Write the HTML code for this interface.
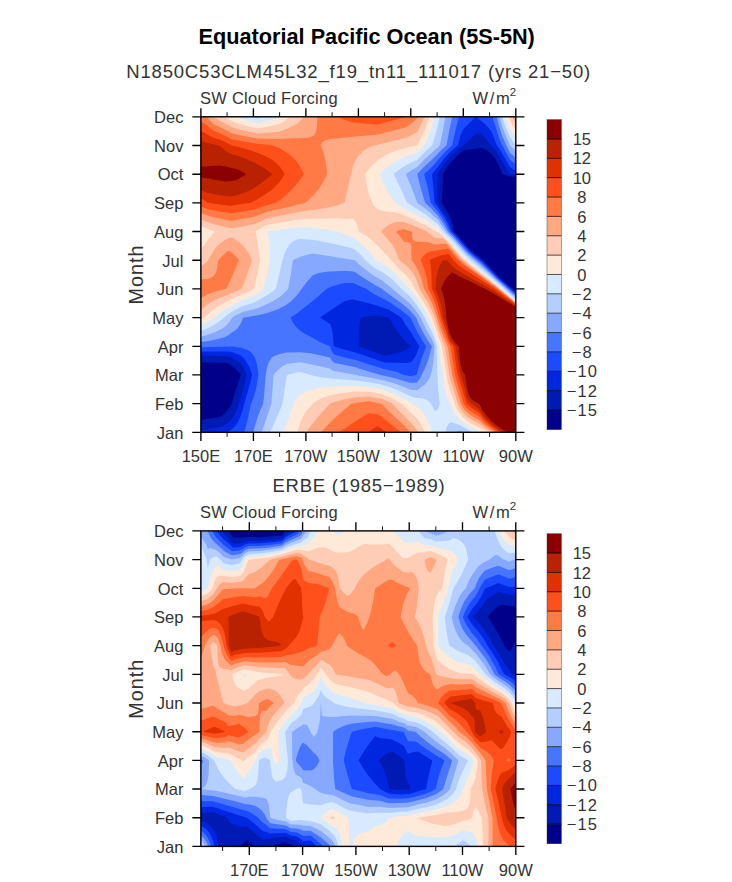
<!DOCTYPE html>
<html><head><meta charset="utf-8"><title>Equatorial Pacific Ocean (5S-5N)</title>
<style>html,body{margin:0;padding:0;background:#fff}svg{display:block}text{font-family:"Liberation Sans",sans-serif}</style></head><body>
<svg width="732" height="882" viewBox="0 0 732 882">
<rect width="732" height="882" fill="#fff"/>
<text transform="translate(366.70,44.00)" text-anchor="middle" font-size="21.7" font-weight="bold" fill="#000">Equatorial Pacific Ocean (5S-5N)</text>
<text transform="translate(126.20,78.00)" text-anchor="start" font-size="18.5" letter-spacing="0.83" fill="#333">N1850C53CLM45L32_f19_tn11_111017 (yrs 21−50)</text>
<text transform="translate(359.00,492.00)" text-anchor="middle" font-size="18.5" letter-spacing="0.75" fill="#333">ERBE (1985−1989)</text>
<g><rect x="200.9" y="116.8" width="314.9" height="315.5" fill="#00008b"/>
<path fill="#001ab4" fill-rule="evenodd" d="M200.9,116.8L515.8,116.8L515.8,177.1L509.9,176.5L504.1,174.8L502.2,173.8L498.9,165.7L495.8,159.8L493.7,156.8L491.2,153.8L487.9,151.0L481.9,148.0L480.9,147.9L473.9,149.0L465.9,149.9L463.9,150.5L461.9,151.8L458.3,154.8L452.3,160.8L447.6,166.8L443.3,173.8L443.1,174.8L442.7,182.8L442.0,202.8L447.9,212.7L450.9,218.7L451.9,221.4L452.8,224.8L453.8,230.8L454.2,231.8L456.3,233.8L469.6,248.8L475.9,254.3L483.9,260.7L499.9,277.8L503.9,281.1L515.8,291.6L515.8,432.3L200.9,432.3L200.9,419.8L219.9,417.0L220.9,416.7L225.3,412.8L228.9,408.4L231.9,403.2L235.8,389.8L240.7,374.8L237.5,370.8L233.9,367.4L230.3,364.8L227.9,363.4L226.9,363.1L200.9,362.2Z"/>
<path fill="#0026e0" fill-rule="evenodd" d="M200.9,116.8L515.8,116.8L515.8,174.9L509.6,173.8L502.9,163.0L499.8,156.8L496.9,151.9L494.2,148.8L490.9,145.8L484.6,136.8L481.9,133.7L480.9,133.3L475.9,133.8L464.2,144.8L457.9,149.3L452.9,153.6L448.9,157.8L445.0,162.8L439.5,170.8L437.7,173.8L437.4,174.8L437.7,202.8L442.9,210.4L447.9,219.0L450.9,225.6L452.4,230.8L453.0,231.8L456.9,235.8L468.9,249.4L475.9,255.5L482.9,261.1L498.9,277.8L515.8,292.6L515.8,432.3L200.9,432.3L200.9,430.5L219.9,427.0L221.9,426.4L227.0,423.8L229.3,421.8L231.9,419.0L233.9,415.8L235.9,411.7L241.1,396.8L244.2,385.8L246.5,374.8L243.9,368.2L240.9,363.4L236.9,360.4L231.9,357.6L226.9,356.1L200.9,355.8ZM372.9,315.7L365.9,316.6L360.8,317.8L360.0,321.8L359.4,326.8L358.6,345.8L360.1,346.8L365.9,349.0L379.9,354.0L384.9,355.5L393.9,353.9L400.9,352.0L406.1,349.8L410.9,346.8L410.9,345.8L407.9,343.5L404.9,340.7L397.9,332.2L393.6,325.8L389.1,317.8L375.9,315.6Z"/>
<path fill="#1c4bff" fill-rule="evenodd" d="M200.9,116.8L515.8,116.8L515.8,170.9L509.8,166.8L500.7,150.8L496.7,144.8L491.9,132.6L489.9,129.4L486.9,126.0L483.6,122.8L481.9,121.3L478.1,118.8L475.9,116.8L463.9,128.5L462.9,130.0L460.4,135.8L458.0,144.8L457.4,145.8L451.9,150.2L446.4,155.8L441.6,161.8L436.9,168.2L432.2,173.8L432.0,174.8L433.4,187.8L434.6,202.8L437.9,207.2L444.9,217.8L448.6,224.8L451.7,231.8L454.9,234.8L468.9,250.6L473.9,255.0L482.3,261.8L498.9,278.7L503.8,282.8L515.8,293.5L515.8,432.3L227.1,432.3L231.4,429.8L234.7,426.8L237.6,422.8L240.1,417.8L242.5,410.8L244.2,403.8L249.2,386.8L252.1,374.8L249.7,367.8L248.1,364.8L245.6,360.8L244.2,358.8L242.3,356.8L240.9,355.6L239.3,354.8L231.9,352.1L227.9,351.4L200.9,351.6ZM349.9,299.8L344.9,301.0L343.9,301.6L321.0,316.8L320.1,317.8L329.9,323.8L330.4,324.8L331.5,327.8L332.4,331.8L333.9,346.0L335.4,346.8L339.9,348.2L356.9,353.0L373.4,358.8L384.9,362.5L403.9,362.9L409.9,362.6L410.9,362.3L411.9,361.5L414.6,357.8L416.7,353.8L419.2,346.8L419.1,345.8L415.3,339.8L410.9,332.2L405.4,324.8L401.5,317.8L388.9,309.7L375.9,305.3L366.9,302.8L358.9,301.1L352.9,299.2Z"/>
<path fill="#4775ff" fill-rule="evenodd" d="M200.9,116.8L459.0,116.8L455.6,129.8L452.3,144.8L451.8,145.8L448.3,148.8L444.3,152.8L431.9,167.0L424.4,173.8L424.2,174.8L427.8,187.8L430.7,202.8L435.9,209.2L437.9,211.3L439.9,214.5L442.9,218.7L445.9,223.7L450.0,231.8L453.9,235.5L467.9,251.2L473.9,256.6L481.6,262.8L497.9,279.0L515.8,294.7L515.8,432.3L244.1,432.3L245.6,427.8L247.6,419.8L250.9,404.0L253.5,397.8L255.5,390.8L257.0,383.8L258.3,375.8L258.4,374.8L258.1,371.8L257.0,364.8L255.9,360.3L254.4,356.8L252.4,353.8L249.9,351.5L247.9,350.3L244.9,349.0L240.9,347.8L231.9,346.4L200.9,347.3ZM340.9,283.8L332.9,286.2L326.7,288.8L317.7,296.8L309.9,303.3L297.9,312.8L290.4,317.8L293.1,322.8L295.9,326.7L299.9,330.6L304.6,333.8L310.9,336.7L319.9,341.9L329.9,346.2L331.9,351.2L333.9,354.5L344.9,357.5L356.9,360.3L367.9,364.1L383.9,369.1L391.9,370.8L396.9,372.1L403.9,374.9L410.9,376.2L416.6,374.8L416.9,374.5L418.6,367.8L420.9,360.3L426.1,346.8L425.9,345.8L422.4,340.8L417.9,333.0L410.5,317.8L401.9,310.8L388.9,301.8L381.9,298.0L372.9,293.4L366.2,288.8L361.1,286.8L354.9,283.8L352.9,283.1L344.9,282.9ZM492.2,116.8L515.8,116.8L515.8,164.3L509.9,159.8L501.4,143.8L499.0,137.8L492.9,118.1Z"/>
<path fill="#86a8ff" fill-rule="evenodd" d="M200.9,116.8L452.2,116.8L449.4,129.8L446.6,144.8L446.1,145.8L441.6,149.8L431.9,159.8L423.9,167.1L417.5,173.8L417.3,174.8L421.2,189.8L425.1,202.8L430.9,208.1L435.1,212.8L437.9,215.4L439.9,218.8L443.9,224.4L448.1,231.8L452.9,236.4L466.9,252.2L472.9,257.6L480.9,264.1L497.3,279.8L501.9,283.7L515.8,296.2L515.8,432.3L253.2,432.3L255.5,423.8L257.8,416.8L260.1,410.8L263.2,403.8L263.9,397.4L265.7,374.8L267.2,366.8L268.6,362.8L269.9,360.2L271.9,357.6L273.9,356.0L279.9,354.0L286.9,352.6L299.9,352.3L310.9,353.3L329.9,357.4L331.9,360.5L333.9,362.7L356.9,367.6L357.9,368.2L362.9,369.8L379.6,374.8L392.9,377.7L409.9,382.7L411.9,382.9L416.9,382.5L418.9,380.1L420.4,377.8L424.3,369.8L426.9,363.7L429.5,355.8L431.8,346.8L431.5,345.8L428.1,340.8L422.7,331.8L418.7,323.8L416.2,317.8L409.9,310.2L401.9,303.6L385.9,291.9L381.9,288.7L374.7,284.8L362.9,277.6L354.9,272.0L352.9,271.5L344.9,270.8L325.9,271.7L318.9,273.1L315.9,274.1L312.9,275.3L306.2,282.8L298.9,292.8L294.9,297.6L290.6,301.8L284.9,305.8L277.9,309.3L268.9,312.5L257.9,315.3L243.2,317.8L240.7,323.8L237.9,328.1L234.9,330.8L231.9,332.6L227.9,335.4L223.9,337.4L217.9,339.1L208.9,341.0L200.9,342.1ZM497.0,116.8L515.8,116.8L515.8,157.7L509.9,152.7L504.7,141.8L502.2,135.8L500.5,130.8L498.8,124.8Z"/>
<path fill="#b4ceff" fill-rule="evenodd" d="M200.9,116.8L445.5,116.8L441.7,136.8L439.9,144.8L439.4,145.8L423.9,159.9L417.9,166.3L416.9,167.2L412.3,169.8L407.8,172.8L406.4,173.8L406.2,174.8L412.0,188.8L417.2,202.8L425.9,209.1L430.9,213.3L434.9,217.3L437.9,219.6L439.9,223.1L442.9,227.0L446.0,231.8L451.9,237.4L465.9,253.3L471.9,258.7L479.9,265.3L496.7,280.8L501.5,284.8L515.8,297.7L515.8,432.3L464.4,432.3L459.9,430.6L457.9,431.2L455.7,432.3L261.8,432.3L271.3,403.8L273.7,374.8L276.1,371.8L279.2,368.8L282.9,366.1L286.9,363.9L299.9,362.2L310.9,364.2L329.9,368.5L331.9,369.9L333.9,370.9L356.9,374.9L357.9,375.4L359.8,375.8L383.9,380.6L394.9,383.6L410.9,389.7L416.9,390.3L419.3,388.8L421.9,386.5L423.9,385.2L425.9,383.6L428.1,380.8L429.9,377.4L431.9,370.8L433.0,364.8L434.0,354.8L434.5,346.8L434.4,345.8L431.9,339.1L429.2,334.8L425.4,327.8L420.7,317.8L414.9,309.3L410.9,304.4L408.9,302.4L383.9,281.7L381.9,280.3L374.9,276.5L369.6,272.8L361.8,266.8L354.9,260.2L312.9,253.4L306.9,254.8L300.9,256.6L293.6,259.8L292.9,260.4L290.2,277.8L288.2,288.8L284.5,292.8L279.8,296.8L275.9,299.5L271.9,301.8L259.9,307.2L253.9,309.3L242.9,311.8L234.9,316.1L232.2,317.8L229.5,321.8L226.9,324.8L223.9,327.5L221.9,328.7L216.9,331.3L210.9,333.7L205.9,335.3L200.9,336.5ZM499.7,116.8L515.8,116.8L515.8,151.1L509.9,145.4L502.9,128.3L501.2,122.8Z"/>
<path fill="#d7eaff" fill-rule="evenodd" d="M200.9,116.8L251.2,116.8L256.9,118.5L262.5,116.8L439.8,116.8L437.8,125.8L435.8,133.8L433.3,141.8L432.2,144.8L431.5,145.8L423.9,152.8L416.9,160.0L409.9,163.2L401.9,167.8L394.9,173.0L394.0,173.8L393.9,174.8L400.8,188.8L407.1,202.8L424.9,213.9L430.9,218.4L434.9,222.0L437.9,223.7L439.9,227.3L443.5,231.8L450.9,238.8L464.9,254.7L470.9,260.2L478.9,266.8L500.7,285.8L515.8,299.5L515.8,432.3L472.5,432.3L466.9,429.3L459.9,424.9L457.9,424.4L454.9,423.2L450.9,422.2L448.9,423.8L447.4,425.8L446.2,428.8L445.4,432.3L270.2,432.3L276.9,417.3L282.5,403.8L284.8,387.8L286.9,375.7L287.9,374.7L298.9,372.1L299.9,372.1L302.8,372.8L314.9,376.1L320.9,377.3L335.9,379.0L356.9,380.5L357.9,380.8L368.9,382.3L380.9,384.6L383.9,385.4L391.9,387.8L394.9,389.0L411.9,396.8L416.9,398.0L421.9,398.2L426.4,399.8L428.1,400.8L429.9,402.5L430.9,403.8L434.9,411.1L435.9,411.3L437.3,409.8L438.5,407.8L439.7,403.8L438.7,395.8L438.0,385.8L437.2,368.8L436.7,345.8L434.9,340.0L431.9,331.9L428.1,324.8L424.8,317.8L420.9,311.3L415.9,303.8L410.9,297.6L408.9,295.5L401.3,288.8L390.9,278.3L382.9,272.6L375.9,268.8L371.9,265.8L366.0,260.8L361.5,255.8L354.9,249.4L352.9,248.5L336.9,244.4L312.9,239.8L299.9,238.9L298.9,239.0L292.9,241.3L291.9,242.1L288.7,245.8L285.9,250.5L284.1,254.8L282.6,259.8L275.8,288.8L272.9,291.2L269.2,293.8L256.9,301.2L252.9,302.9L242.9,306.0L232.9,311.0L227.4,314.8L220.2,320.8L215.9,323.8L208.8,327.8L204.2,329.8L200.9,330.9ZM502.3,116.8L515.8,116.8L515.8,144.4L512.6,140.8L509.9,137.1L504.9,124.7Z"/>
<path fill="#ffe9d9" fill-rule="evenodd" d="M200.9,116.8L235.9,116.8L247.4,120.8L256.9,123.5L268.9,120.5L274.2,118.8L279.1,116.8L434.2,116.8L432.1,125.8L429.9,132.8L426.9,140.0L423.7,145.8L417.9,152.0L416.9,152.8L409.9,155.0L401.9,158.3L396.9,160.9L390.9,164.6L386.9,167.6L383.3,170.8L380.4,173.8L380.2,174.8L383.2,182.8L386.9,190.6L390.9,196.9L395.7,202.8L400.9,206.4L426.9,220.6L434.9,226.6L437.9,227.8L439.9,231.4L448.9,239.9L462.9,255.9L472.8,264.8L498.9,286.3L506.9,293.8L510.9,297.1L515.8,301.8L515.8,432.3L482.5,432.3L472.9,428.5L468.9,426.3L462.9,422.0L457.2,416.8L455.7,414.8L453.3,410.8L452.1,407.8L450.9,403.5L449.5,401.8L447.9,399.0L445.9,393.2L444.5,386.8L443.1,374.8L440.9,363.5L439.9,355.3L439.2,346.8L434.9,332.9L431.9,324.7L428.6,317.8L424.9,311.0L420.9,304.5L414.9,295.6L406.9,285.8L402.4,280.8L398.9,277.5L390.9,269.1L384.0,264.8L375.9,260.3L370.9,253.7L366.9,249.2L363.2,245.8L358.9,242.5L354.9,238.7L352.9,237.2L344.9,234.4L337.9,231.6L329.9,230.1L320.9,228.9L309.9,227.8L299.9,227.0L272.6,230.8L266.9,231.8L267.8,233.8L268.4,235.8L269.2,240.8L269.7,247.8L270.2,259.8L267.3,273.8L263.5,288.8L258.6,292.8L253.9,295.9L242.9,300.1L231.9,305.4L218.9,313.7L208.9,321.1L204.4,323.8L200.9,325.4ZM505.2,116.8L515.8,116.8L515.8,137.1L512.4,132.8L509.9,128.7ZM330.2,386.8L351.9,386.0L356.9,386.1L368.9,387.0L380.9,389.3L392.9,393.4L398.9,396.4L407.9,401.3L415.9,406.1L418.2,407.8L420.4,409.8L423.7,413.8L427.3,419.8L429.9,425.8L431.9,432.3L282.6,432.3L285.9,425.2L288.6,418.8L293.9,403.5L296.9,398.6L299.9,394.8L303.9,392.4L308.9,390.6L318.9,388.3Z"/>
<path fill="#ffcdb5" fill-rule="evenodd" d="M200.9,116.8L223.9,116.8L231.9,120.9L235.9,122.7L246.9,126.0L256.9,128.5L268.9,126.6L278.9,124.3L281.8,122.8L284.8,120.8L289.4,116.8L429.6,116.8L427.4,123.8L424.9,130.1L417.9,144.2L416.9,145.4L407.9,147.3L400.9,149.2L394.9,151.2L387.9,154.2L382.9,156.9L377.3,160.8L372.7,164.8L368.9,169.1L365.6,173.8L365.5,174.8L366.9,185.2L368.8,193.8L370.8,199.8L372.9,204.2L374.0,205.8L375.9,207.7L378.9,209.7L380.9,210.6L383.9,211.3L395.9,212.4L399.7,213.8L403.9,215.0L426.9,226.0L434.9,231.3L437.9,232.0L438.9,232.6L447.9,241.0L460.9,255.9L463.9,258.9L468.9,263.3L497.9,286.5L515.8,302.3L515.8,432.3L488.1,432.3L484.9,430.7L478.9,427.3L472.9,424.6L468.4,421.8L466.9,420.7L462.9,417.2L459.4,412.8L457.4,409.8L455.9,406.5L449.6,388.8L448.4,384.8L447.3,379.8L445.5,368.8L441.8,345.8L438.9,338.4L434.9,325.7L431.9,317.6L427.9,309.3L422.8,300.8L414.9,288.8L411.9,282.8L408.9,278.2L403.9,273.1L398.9,268.7L380.9,248.7L372.6,240.8L369.9,238.5L366.2,235.8L359.2,231.8L358.6,230.8L357.3,225.8L356.2,222.8L354.9,220.6L352.9,218.5L344.9,219.0L337.9,218.3L304.9,219.2L298.9,219.5L266.9,224.9L261.9,227.6L256.6,230.8L255.3,231.8L255.9,233.4L257.7,242.8L260.0,259.8L257.5,273.8L254.3,288.8L247.9,292.1L231.9,299.1L217.4,306.8L213.9,309.0L210.9,311.4L204.4,317.8L200.9,319.8L200.9,249.2L210.2,236.8L214.6,231.8L213.1,230.8L200.9,226.2ZM508.4,116.8L515.8,116.8L515.8,129.9L511.9,124.2ZM352.6,391.8L356.9,391.6L368.9,391.8L380.9,394.1L391.9,398.2L395.9,400.3L401.7,403.8L417.9,419.6L421.3,424.8L424.7,432.3L297.1,432.3L300.6,421.8L302.3,417.8L304.5,413.8L305.9,411.5L309.1,407.8L312.8,403.8L314.9,402.1L317.9,400.2L321.9,398.1L329.9,395.2L340.9,393.2Z"/>
<path fill="#ffa882" fill-rule="evenodd" d="M200.9,116.8L212.8,116.8L223.9,123.0L232.9,127.4L235.9,128.5L242.9,130.4L256.9,133.5L275.9,132.1L278.9,131.7L282.9,130.5L292.9,126.1L296.9,123.8L300.9,120.5L303.9,116.8L424.6,116.8L417.9,130.7L416.9,132.0L413.9,133.9L409.9,136.0L405.9,137.8L372.9,146.0L368.9,147.7L365.9,149.3L362.9,151.4L359.9,154.2L357.8,156.8L355.9,159.8L354.4,162.8L352.9,166.7L344.4,202.8L341.9,203.8L336.9,205.4L326.9,207.7L316.9,209.5L299.9,211.8L266.9,218.4L254.9,224.1L231.9,228.5L214.9,224.6L207.9,222.3L200.9,219.5ZM512.2,116.8L515.8,116.8L515.8,122.6ZM393.3,222.8L395.9,222.0L403.9,222.0L411.9,225.1L426.9,231.4L430.9,235.1L434.9,237.8L442.9,238.5L446.9,242.0L459.9,257.0L462.9,259.9L467.9,264.2L497.9,287.4L515.8,302.7L515.8,432.3L491.6,432.3L484.4,427.8L478.9,423.6L471.9,420.0L466.9,416.5L462.9,412.3L459.4,406.8L457.6,402.8L452.9,387.8L450.1,377.8L449.4,374.8L444.9,346.3L442.5,340.8L439.9,334.1L434.9,318.5L431.9,310.4L427.9,302.2L419.5,288.8L417.9,283.8L415.9,278.8L414.9,276.6L412.0,271.8L408.6,267.8L404.0,263.8L400.0,260.8L399.1,259.8L396.4,252.8L394.0,247.8L391.9,244.2L381.4,231.8L381.7,230.8L382.5,229.8L385.9,226.7L388.9,224.8ZM230.4,237.8L231.9,237.6L235.7,239.8L238.9,242.0L242.9,245.6L245.6,248.8L247.9,252.0L250.1,255.8L251.9,259.8L251.9,260.8L242.0,288.8L231.9,292.9L225.9,295.7L218.9,298.3L213.9,300.5L210.0,302.8L207.1,304.8L200.9,310.2L200.9,266.6L203.9,264.6L207.7,260.8L213.5,250.8L214.9,248.7L217.9,245.3L221.1,242.8L225.9,239.6L227.9,238.4ZM363.3,396.8L368.9,396.5L380.9,398.8L387.9,401.6L392.6,403.8L397.9,409.7L410.8,422.8L415.2,427.8L418.3,432.3L306.3,432.3L310.2,426.8L317.3,417.8L329.7,403.8L332.9,402.5L337.9,400.9L348.9,398.2L355.9,397.3Z"/>
<path fill="#ff7a45" fill-rule="evenodd" d="M200.9,116.8L207.0,116.8L210.0,120.8L212.9,123.8L219.9,127.0L231.9,133.2L234.9,134.1L245.9,136.5L256.9,138.5L278.9,139.1L289.9,138.4L304.9,138.0L309.9,137.2L312.9,136.1L313.9,135.4L314.9,134.2L315.6,132.8L316.3,130.8L317.1,124.8L317.6,116.8L418.2,116.8L416.5,118.8L412.9,122.2L409.6,124.8L405.9,127.3L388.9,131.7L377.9,134.5L360.9,136.0L344.9,137.6L337.9,138.6L330.9,139.1L327.2,139.8L324.5,140.8L323.0,141.8L322.1,142.8L321.1,144.8L321.0,145.8L323.0,150.8L324.9,158.0L326.6,168.8L327.1,173.8L326.9,174.8L322.9,182.5L318.8,188.8L313.9,194.8L307.9,200.6L305.2,202.8L290.9,206.4L266.9,211.8L254.9,216.6L250.9,217.6L231.9,220.8L228.9,220.4L214.9,217.6L208.9,216.1L200.9,212.9ZM400.8,229.8L403.9,229.1L412.0,231.8L412.3,236.8L412.6,238.8L413.1,239.8L413.9,240.7L414.9,241.2L418.9,241.7L426.9,242.0L434.9,244.4L443.9,243.8L445.9,243.8L446.9,244.5L458.9,258.4L461.9,261.2L466.9,265.4L497.1,287.8L515.8,303.2L515.8,432.3L494.6,432.3L484.9,425.5L481.7,422.8L478.9,419.9L471.9,416.0L467.6,412.8L463.9,408.9L461.9,405.8L460.5,402.8L454.1,381.8L452.2,374.8L447.8,346.8L447.4,345.8L442.6,334.8L438.9,324.1L434.9,310.9L431.9,303.2L428.3,295.8L424.0,288.8L421.4,278.8L418.3,270.8L415.7,265.8L411.5,259.8L411.3,247.8L410.9,244.8L410.6,243.8L409.9,242.9L408.9,242.4L406.9,241.9L403.9,241.7L399.7,235.8L396.1,231.8L397.7,230.8ZM227.1,251.8L227.9,251.1L228.9,250.9L231.9,252.6L234.9,255.5L237.9,258.8L238.7,259.8L238.8,260.8L231.9,276.8L226.1,288.8L217.9,290.8L211.6,292.8L206.9,294.8L200.9,298.0L200.9,279.3L206.9,278.9L208.9,278.6L211.9,277.3L213.9,275.7L215.3,273.8L216.6,270.8L217.5,266.8L218.3,260.8L218.7,259.8L222.5,255.8ZM363.9,401.8L368.9,401.3L381.2,403.8L395.7,417.8L401.9,423.2L410.5,432.3L320.9,432.3L329.9,422.7L335.9,416.9L351.2,403.8L356.4,402.8Z"/>
<path fill="#ff501b" fill-rule="evenodd" d="M337.8,116.8L405.9,116.8L377.9,124.4L365.9,123.7L352.9,122.5L344.1,119.8ZM200.9,121.8L200.9,121.6L201.9,122.1L206.9,125.3L209.9,128.3L212.9,130.6L219.9,133.3L231.9,139.3L247.9,142.3L255.9,143.4L267.8,144.8L273.4,145.8L276.9,147.0L280.8,148.8L288.9,154.2L292.0,156.8L295.0,159.8L298.2,163.8L300.9,168.1L303.8,173.8L303.5,174.8L297.8,182.8L290.9,190.5L281.9,198.7L275.9,202.8L265.9,205.5L254.9,209.2L250.9,210.2L231.9,213.2L228.9,213.1L208.9,209.5L207.9,209.3L200.9,206.2ZM440.5,249.8L442.9,249.3L445.9,249.3L447.9,248.8L448.9,249.4L457.9,259.8L461.9,263.5L466.9,267.4L474.9,272.8L495.9,287.9L515.8,303.7L515.8,432.3L497.3,432.3L492.9,429.2L484.9,422.9L481.8,419.8L478.9,416.2L472.9,412.7L468.9,409.7L466.9,407.9L463.6,403.8L454.9,374.8L450.5,346.8L447.9,342.1L445.9,336.5L442.9,329.2L439.2,317.8L437.0,309.8L434.9,303.3L431.9,296.1L428.4,288.8L427.2,280.8L425.4,272.8L423.2,265.8L420.9,260.8L420.8,259.8L422.9,256.5L425.5,253.8L427.9,252.2L429.9,251.5L434.9,251.0ZM367.7,413.8L368.9,413.2L377.9,414.2L380.9,415.9L394.9,427.6L401.3,432.3L338.9,432.3L344.9,428.5L352.9,422.9Z"/>
<path fill="#e23100" fill-rule="evenodd" d="M200.9,131.8L200.9,131.1L201.9,131.5L206.9,133.9L209.9,135.9L212.9,137.4L219.9,139.5L231.9,145.6L241.7,147.8L251.9,150.8L260.1,153.8L267.9,157.4L272.9,160.2L278.1,164.8L280.7,167.8L282.9,171.0L284.6,173.8L284.4,174.8L281.9,178.8L278.9,182.8L272.9,189.1L268.9,192.1L262.9,196.1L256.9,199.6L251.0,202.8L229.9,205.8L207.9,202.7L203.4,199.8L200.9,198.6ZM443.2,254.8L445.9,254.8L447.9,254.1L448.9,254.6L455.0,261.8L458.9,265.5L463.9,269.1L483.9,281.8L495.9,289.8L515.8,304.6L515.8,432.3L500.0,432.3L493.6,427.8L486.4,421.8L482.7,417.8L478.9,412.6L470.9,407.3L467.0,403.8L466.5,402.8L463.9,395.1L457.8,374.8L455.6,362.8L453.3,346.8L452.8,345.8L450.2,342.8L448.3,338.8L445.9,330.6L442.6,321.8L441.4,317.8L439.3,308.8L437.5,302.8L435.4,296.8L431.9,288.8L431.2,270.8L430.8,265.8L429.9,260.6L430.3,259.8L432.9,258.5L438.9,256.1ZM376.5,426.8L377.9,426.3L386.8,432.3L368.7,432.3L371.9,429.5Z"/>
<path fill="#b82200" fill-rule="evenodd" d="M200.9,140.8L210.9,143.8L219.6,145.8L224.3,149.8L227.9,152.3L231.9,154.6L236.9,155.6L243.9,158.1L251.9,161.5L258.9,165.0L264.9,168.6L269.9,172.2L271.9,173.8L271.7,174.8L261.7,182.8L250.9,190.1L242.9,193.3L235.9,195.5L229.9,196.6L224.9,196.1L207.9,193.0L200.9,190.0ZM442.7,260.8L443.9,260.4L445.9,260.4L446.9,259.9L451.9,265.8L455.2,268.8L461.5,272.8L485.9,286.3L495.9,292.5L515.8,305.8L515.8,432.3L502.9,432.3L497.9,429.2L492.9,425.3L486.9,419.8L484.9,417.7L482.6,414.8L478.9,408.9L470.3,402.8L468.6,400.8L467.5,398.8L466.4,395.8L464.9,388.3L459.8,371.8L455.6,346.8L455.1,345.8L452.4,342.8L450.9,340.8L448.9,336.3L445.9,324.7L443.3,317.8L441.9,309.0L440.1,301.8L437.9,295.1L435.3,288.8L436.3,278.8L437.9,270.5L440.0,264.8L440.9,263.1Z"/>
<path fill="#8b0000" fill-rule="evenodd" d="M215.5,165.8L219.9,165.6L224.9,166.2L231.9,168.2L235.9,168.7L239.9,170.6L245.8,173.8L245.5,174.8L236.9,180.0L235.9,180.3L228.9,181.3L224.9,181.5L200.9,177.2L200.9,166.7ZM451.1,272.8L451.9,272.4L452.9,272.7L458.1,275.8L469.9,281.3L483.9,288.2L493.9,293.7L515.8,306.9L515.8,432.3L508.3,432.3L502.9,429.8L496.9,425.7L490.9,420.4L485.7,414.8L482.2,409.8L479.1,403.8L474.9,401.8L472.2,399.8L470.5,397.8L468.9,394.7L467.9,391.8L466.9,387.9L465.0,374.8L463.5,372.8L462.5,370.8L460.9,365.6L459.7,357.8L458.9,346.6L458.3,345.8L455.2,342.8L452.3,338.8L450.3,334.8L448.7,329.8L446.3,317.8L445.9,309.9L444.5,299.8L443.0,293.8L441.0,288.8L442.9,283.9L444.6,280.8L446.9,277.6Z"/></g>
<rect x="200.9" y="116.8" width="314.9" height="315.5" fill="none" stroke="#000" stroke-width="1.4"/>
<path d="M227.1,432.3v4.6M227.1,116.8v-4.6M279.6,432.3v4.6M279.6,116.8v-4.6M332.1,432.3v4.6M332.1,116.8v-4.6M384.6,432.3v4.6M384.6,116.8v-4.6M437.1,432.3v4.6M437.1,116.8v-4.6M489.6,432.3v4.6M489.6,116.8v-4.6" stroke="#000" stroke-width="0.9" fill="none"/>
<path d="M200.9,432.3v8.6M200.9,116.8v-8.6M253.4,432.3v8.6M253.4,116.8v-8.6M305.9,432.3v8.6M305.9,116.8v-8.6M358.4,432.3v8.6M358.4,116.8v-8.6M410.8,432.3v8.6M410.8,116.8v-8.6M463.3,432.3v8.6M463.3,116.8v-8.6M515.8,432.3v8.6M515.8,116.8v-8.6M200.9,432.3h-8.6M515.8,432.3h8.6M200.9,403.6h-8.6M515.8,403.6h8.6M200.9,374.9h-8.6M515.8,374.9h8.6M200.9,346.3h-8.6M515.8,346.3h8.6M200.9,317.6h-8.6M515.8,317.6h8.6M200.9,288.9h-8.6M515.8,288.9h8.6M200.9,260.2h-8.6M515.8,260.2h8.6M200.9,231.5h-8.6M515.8,231.5h8.6M200.9,202.8h-8.6M515.8,202.8h8.6M200.9,174.2h-8.6M515.8,174.2h8.6M200.9,145.5h-8.6M515.8,145.5h8.6M200.9,116.8h-8.6M515.8,116.8h8.6" stroke="#000" stroke-width="1.35" fill="none"/>
<text transform="translate(183.40,438.60)" text-anchor="end" font-size="16.5" fill="#333">Jan</text>
<text transform="translate(183.40,409.92)" text-anchor="end" font-size="16.5" fill="#333">Feb</text>
<text transform="translate(183.40,381.24)" text-anchor="end" font-size="16.5" fill="#333">Mar</text>
<text transform="translate(183.40,352.55)" text-anchor="end" font-size="16.5" fill="#333">Apr</text>
<text transform="translate(183.40,323.87)" text-anchor="end" font-size="16.5" fill="#333">May</text>
<text transform="translate(183.40,295.19)" text-anchor="end" font-size="16.5" fill="#333">Jun</text>
<text transform="translate(183.40,266.51)" text-anchor="end" font-size="16.5" fill="#333">Jul</text>
<text transform="translate(183.40,237.83)" text-anchor="end" font-size="16.5" fill="#333">Aug</text>
<text transform="translate(183.40,209.15)" text-anchor="end" font-size="16.5" fill="#333">Sep</text>
<text transform="translate(183.40,180.46)" text-anchor="end" font-size="16.5" fill="#333">Oct</text>
<text transform="translate(183.40,151.78)" text-anchor="end" font-size="16.5" fill="#333">Nov</text>
<text transform="translate(183.40,123.10)" text-anchor="end" font-size="16.5" fill="#333">Dec</text>
<text transform="translate(200.90,462.10)" text-anchor="middle" font-size="16.5" fill="#333">150E</text>
<text transform="translate(253.38,462.10)" text-anchor="middle" font-size="16.5" fill="#333">170E</text>
<text transform="translate(305.87,462.10)" text-anchor="middle" font-size="16.5" fill="#333">170W</text>
<text transform="translate(358.35,462.10)" text-anchor="middle" font-size="16.5" fill="#333">150W</text>
<text transform="translate(410.83,462.10)" text-anchor="middle" font-size="16.5" fill="#333">130W</text>
<text transform="translate(463.32,462.10)" text-anchor="middle" font-size="16.5" fill="#333">110W</text>
<text transform="translate(515.80,462.10)" text-anchor="middle" font-size="16.5" fill="#333">90W</text>
<text transform="translate(142.90,274.55) rotate(-90)" text-anchor="middle" font-size="19.8" letter-spacing="1" fill="#333">Month</text>
<text transform="translate(200.00,104.20)" text-anchor="start" font-size="16.5" letter-spacing="0.25" fill="#333">SW Cloud Forcing</text>
<text transform="translate(472.50,104.20)" text-anchor="start" font-size="16.5" letter-spacing="1.7" fill="#333">W/m</text>
<text transform="translate(509.80,96.20)" text-anchor="start" font-size="11.5" fill="#333">2</text>
<rect x="547.0" y="410.00" width="14.4" height="19.66" fill="#00008b"/>
<rect x="547.0" y="390.64" width="14.4" height="19.66" fill="#001ab4"/>
<rect x="547.0" y="371.28" width="14.4" height="19.66" fill="#0026e0"/>
<rect x="547.0" y="351.92" width="14.4" height="19.66" fill="#1c4bff"/>
<rect x="547.0" y="332.56" width="14.4" height="19.66" fill="#4775ff"/>
<rect x="547.0" y="313.20" width="14.4" height="19.66" fill="#86a8ff"/>
<rect x="547.0" y="293.84" width="14.4" height="19.66" fill="#b4ceff"/>
<rect x="547.0" y="274.48" width="14.4" height="19.66" fill="#d7eaff"/>
<rect x="547.0" y="255.12" width="14.4" height="19.66" fill="#ffe9d9"/>
<rect x="547.0" y="235.76" width="14.4" height="19.66" fill="#ffcdb5"/>
<rect x="547.0" y="216.40" width="14.4" height="19.66" fill="#ffa882"/>
<rect x="547.0" y="197.04" width="14.4" height="19.66" fill="#ff7a45"/>
<rect x="547.0" y="177.68" width="14.4" height="19.66" fill="#ff501b"/>
<rect x="547.0" y="158.32" width="14.4" height="19.66" fill="#e23100"/>
<rect x="547.0" y="138.96" width="14.4" height="19.66" fill="#b82200"/>
<rect x="547.0" y="119.60" width="14.4" height="19.66" fill="#8b0000"/>
<path d="M547.0,138.96H561.4M547.0,158.32H561.4M547.0,177.68H561.4M547.0,197.04H561.4M547.0,216.40H561.4M547.0,235.76H561.4M547.0,255.12H561.4M547.0,274.48H561.4M547.0,293.84H561.4M547.0,313.20H561.4M547.0,332.56H561.4M547.0,351.92H561.4M547.0,371.28H561.4M547.0,390.64H561.4M547.0,410.00H561.4" stroke="#000" stroke-opacity="0.75" stroke-width="0.9" fill="none"/>
<rect x="547.0" y="119.60" width="14.4" height="309.76" fill="none" stroke="#333" stroke-opacity="0.6" stroke-width="0.7"/>
<text transform="translate(582.30,416.10)" text-anchor="middle" font-size="16.5" letter-spacing="1.1" fill="#333">−15</text>
<text transform="translate(582.30,396.74)" text-anchor="middle" font-size="16.5" letter-spacing="1.1" fill="#333">−12</text>
<text transform="translate(582.30,377.38)" text-anchor="middle" font-size="16.5" letter-spacing="1.1" fill="#333">−10</text>
<text transform="translate(582.30,358.02)" text-anchor="middle" font-size="16.5" letter-spacing="1.1" fill="#333">−8</text>
<text transform="translate(582.30,338.66)" text-anchor="middle" font-size="16.5" letter-spacing="1.1" fill="#333">−6</text>
<text transform="translate(582.30,319.30)" text-anchor="middle" font-size="16.5" letter-spacing="1.1" fill="#333">−4</text>
<text transform="translate(582.30,299.94)" text-anchor="middle" font-size="16.5" letter-spacing="1.1" fill="#333">−2</text>
<text transform="translate(581.80,280.58)" text-anchor="middle" font-size="16.5" fill="#333">0</text>
<text transform="translate(581.80,261.22)" text-anchor="middle" font-size="16.5" fill="#333">2</text>
<text transform="translate(581.80,241.86)" text-anchor="middle" font-size="16.5" fill="#333">4</text>
<text transform="translate(581.80,222.50)" text-anchor="middle" font-size="16.5" fill="#333">6</text>
<text transform="translate(581.80,203.14)" text-anchor="middle" font-size="16.5" fill="#333">8</text>
<text transform="translate(581.80,183.78)" text-anchor="middle" font-size="16.5" fill="#333">10</text>
<text transform="translate(581.80,164.42)" text-anchor="middle" font-size="16.5" fill="#333">12</text>
<text transform="translate(581.80,145.06)" text-anchor="middle" font-size="16.5" fill="#333">15</text>
<g><rect x="200.9" y="530.9" width="314.9" height="315.5" fill="#00008b"/>
<path fill="#001ab4" fill-rule="evenodd" d="M200.9,530.9L228.7,530.9L230.9,534.4L232.9,537.0L233.9,537.5L239.9,537.8L245.9,536.9L248.9,536.8L258.9,537.2L281.9,535.4L282.9,534.4L284.9,531.3L285.4,530.9L515.8,530.9L515.8,605.6L509.9,605.9L501.9,604.8L500.8,604.9L497.9,606.2L494.9,608.9L490.9,612.9L487.7,616.9L491.9,622.9L496.1,629.9L502.1,640.9L504.4,645.9L507.9,650.5L508.9,651.4L511.4,648.9L514.2,643.9L515.8,641.5L515.8,846.4L296.2,846.4L284.9,842.6L277.9,844.3L271.7,846.4L254.4,846.4L247.9,840.2L246.9,840.3L244.5,841.9L242.2,843.9L240.0,846.4L200.9,846.4Z"/>
<path fill="#0026e0" fill-rule="evenodd" d="M200.9,530.9L221.7,530.9L225.1,534.9L228.9,538.6L231.9,542.3L232.9,543.1L233.9,543.4L239.9,543.3L242.9,542.4L244.9,541.4L247.9,540.9L258.9,540.9L269.9,540.1L281.9,538.8L282.9,537.9L284.9,535.2L291.9,530.9L515.8,530.9L515.8,594.3L509.9,594.8L500.9,592.5L497.9,592.1L491.6,595.9L485.9,600.3L484.9,601.4L482.3,605.9L478.9,610.6L475.9,613.9L472.8,616.9L479.9,623.9L484.9,630.1L489.2,636.9L493.9,645.9L497.4,650.9L503.9,662.3L509.9,671.1L511.5,673.9L515.8,676.8L515.8,846.4L311.7,846.4L310.9,845.6L309.9,845.3L303.9,846.3L302.9,846.1L299.9,843.0L296.9,840.7L295.9,840.3L290.9,839.2L285.9,837.0L284.9,836.8L276.9,837.8L269.9,839.1L265.9,839.0L262.9,839.8L261.9,839.3L247.9,827.2L246.9,826.8L239.9,826.4L236.9,825.7L233.9,824.6L231.9,823.5L230.0,821.9L228.4,819.9L227.4,817.9L225.4,816.9L212.9,812.3L200.9,813.2ZM390.9,751.7L387.9,753.0L384.8,754.9L381.9,757.3L379.5,759.9L379.5,760.9L382.3,765.9L385.2,772.9L386.9,778.3L388.9,786.5L389.7,788.9L400.9,790.1L408.9,789.5L410.9,788.9L409.7,784.9L408.9,783.4L407.9,783.1L406.4,778.9L405.5,773.9L404.3,760.9L403.9,759.9L398.9,756.1L394.2,752.9L391.9,751.5ZM200.9,821.9L200.9,821.2L201.9,821.4L204.9,822.5L207.9,824.0L210.9,826.4L213.7,829.9L215.5,832.9L216.7,835.9L218.6,846.4L200.9,846.4Z"/>
<path fill="#1c4bff" fill-rule="evenodd" d="M200.9,530.9L216.3,530.9L224.4,539.9L228.9,543.6L231.9,546.6L232.9,547.2L233.9,547.4L239.9,547.0L242.9,545.7L244.9,544.4L247.9,543.6L260.9,543.3L269.9,542.5L281.9,541.1L282.9,540.2L284.9,537.8L285.9,537.1L297.2,530.9L515.8,530.9L515.8,586.4L509.9,587.3L498.9,583.3L497.9,583.2L485.9,587.9L484.9,588.7L482.0,594.9L478.6,600.9L475.0,605.9L472.9,607.9L471.9,609.2L467.4,616.9L471.9,624.3L478.8,631.9L483.8,638.9L487.8,645.9L491.3,650.9L496.3,658.9L504.0,673.9L510.9,677.9L515.8,681.8L515.8,846.4L316.6,846.4L313.9,843.5L310.9,840.7L309.9,840.4L303.9,841.1L302.9,840.9L299.9,838.5L296.9,836.6L295.9,836.3L290.9,835.5L285.9,833.1L284.9,832.9L269.9,833.6L265.9,831.8L262.9,831.2L257.9,826.6L247.9,818.5L246.9,817.8L244.4,816.9L227.9,811.8L212.9,806.8L200.9,807.1ZM374.9,736.5L369.7,742.9L364.8,749.9L358.9,759.8L358.9,760.9L363.7,768.9L368.6,775.9L373.5,781.9L380.1,788.9L384.9,791.7L388.9,793.6L389.9,793.8L400.9,794.4L408.9,793.9L421.9,790.3L426.0,788.9L429.0,773.9L432.3,760.9L431.7,759.9L417.9,751.6L414.9,751.7L407.9,753.8L403.9,746.1L402.9,745.2L399.9,743.5L391.9,739.5L381.9,738.3L378.9,737.7L375.9,736.6ZM200.9,825.9L202.9,826.8L205.8,828.9L207.8,830.9L209.4,832.9L211.1,835.9L212.4,838.9L214.6,846.4L200.9,846.4Z"/>
<path fill="#4775ff" fill-rule="evenodd" d="M200.9,530.9L212.4,530.9L213.9,533.9L215.9,536.9L222.9,544.3L224.9,546.0L231.9,550.9L232.9,551.3L233.9,551.3L239.9,550.6L242.9,549.0L244.9,547.4L248.9,546.1L257.9,546.0L261.9,545.7L269.9,545.0L281.9,543.3L282.9,542.6L284.9,540.4L285.9,539.7L297.5,533.9L300.4,531.9L301.4,530.9L515.8,530.9L515.8,577.0L510.9,578.5L508.9,578.5L498.9,574.6L497.9,574.5L489.9,577.4L484.9,579.6L481.9,584.2L477.9,592.1L475.0,596.9L471.9,600.2L467.9,605.9L465.3,610.9L462.9,616.9L464.9,621.9L467.1,625.9L471.9,632.9L477.1,638.9L481.8,645.9L485.9,651.2L489.9,657.1L495.4,666.9L498.7,673.9L499.8,674.9L503.9,677.6L509.9,681.1L512.9,683.6L515.8,686.8L515.8,846.4L323.3,846.4L319.6,842.9L310.9,835.8L309.9,835.6L303.9,835.9L302.9,835.8L299.9,833.9L296.9,832.6L290.9,831.9L285.9,829.3L284.9,829.1L269.9,828.2L265.9,824.5L262.9,822.7L257.9,817.5L255.9,815.9L251.4,812.9L246.9,810.9L243.9,810.3L212.9,801.3L200.9,801.1ZM368.9,727.9L357.9,730.1L351.8,731.9L349.4,738.9L346.9,747.2L343.9,759.0L343.8,760.9L347.6,774.9L351.8,788.9L367.9,792.9L379.9,794.9L388.9,798.4L400.9,798.7L408.9,798.2L425.9,793.7L431.9,791.0L435.8,788.9L437.8,779.9L439.8,772.9L441.9,766.8L444.5,760.9L443.9,759.9L438.9,757.1L433.9,754.1L422.0,745.9L417.9,742.8L415.9,741.8L414.9,741.6L408.9,741.3L407.9,741.0L403.9,732.2L403.6,731.9L375.9,727.1L374.9,727.0ZM200.9,830.9L200.9,830.4L202.9,831.9L204.9,833.9L206.9,836.4L209.4,840.9L211.5,846.4L200.9,846.4Z"/>
<path fill="#86a8ff" fill-rule="evenodd" d="M200.9,530.9L207.9,530.9L208.9,534.1L210.4,536.9L212.4,539.9L214.1,541.9L219.9,547.0L223.9,551.1L231.2,554.9L232.9,555.3L239.9,554.3L242.9,552.3L244.9,550.3L246.9,549.4L248.9,548.8L261.9,548.3L269.9,547.4L281.9,545.6L282.9,544.9L284.9,543.0L285.9,542.4L297.9,536.9L300.9,535.2L301.9,534.2L302.9,530.9L515.8,530.9L515.8,567.6L513.9,568.7L510.9,569.7L508.9,570.1L498.9,566.0L497.9,565.8L489.9,568.5L484.9,570.6L481.8,573.9L479.1,577.9L476.9,582.4L474.9,588.1L468.7,594.9L464.0,601.9L460.9,608.7L458.3,616.9L460.9,625.3L462.5,628.9L463.9,631.3L465.9,634.2L475.9,646.0L485.9,659.0L490.2,665.9L494.2,673.9L495.1,674.9L498.9,677.8L506.9,682.8L509.8,684.9L512.8,687.9L515.8,691.8L515.8,846.4L331.4,846.4L320.9,837.5L310.9,831.0L309.9,830.8L303.9,830.8L302.9,830.6L299.9,829.3L296.9,828.5L290.9,828.3L285.9,825.4L273.9,823.7L270.9,823.2L269.9,822.8L266.3,817.9L264.9,814.8L262.2,810.9L258.9,807.9L255.9,806.3L249.9,804.4L243.9,803.8L235.9,801.6L213.1,795.9L200.9,795.1L200.9,766.0L203.4,760.9L202.2,759.9L200.9,759.5ZM302.9,742.8L300.9,745.1L299.5,747.9L296.3,757.9L295.9,759.9L296.0,760.9L297.9,763.4L301.9,767.9L302.9,770.1L303.9,770.3L311.9,770.3L314.0,768.9L316.8,765.9L318.9,762.0L319.4,760.9L319.4,759.9L317.9,756.9L316.9,755.5L315.9,754.5L313.9,753.2L311.9,750.5L309.2,747.9L306.9,745.0ZM367.9,721.9L352.9,723.5L347.9,724.6L342.9,726.3L339.2,727.9L334.9,730.4L333.1,731.9L333.0,760.9L334.0,776.9L335.2,788.9L347.9,794.8L351.9,796.4L367.9,799.8L379.9,800.8L386.9,802.8L389.9,803.3L407.9,802.8L425.9,798.2L435.9,794.2L439.9,791.6L443.3,788.9L447.5,774.9L452.1,760.9L451.8,759.9L444.9,754.3L436.9,749.1L428.9,743.2L421.1,736.9L415.6,731.9L407.9,730.4L403.9,727.4L397.9,726.1L392.9,724.5L374.9,721.4ZM200.9,835.9L200.9,835.0L202.9,836.9L204.4,838.9L206.4,841.9L208.5,846.4L200.9,846.4Z"/>
<path fill="#b4ceff" fill-rule="evenodd" d="M306.7,531.9L307.4,530.9L424.7,530.9L427.9,532.3L435.9,535.4L436.9,535.6L443.9,533.3L448.5,530.9L515.8,530.9L515.8,558.7L513.9,559.7L508.9,561.6L502.9,558.9L500.9,557.7L497.9,555.2L494.9,555.2L489.1,559.9L483.9,562.2L479.9,564.9L476.9,568.1L472.2,574.9L468.9,580.8L466.0,587.9L462.4,591.9L459.9,595.8L455.2,605.9L451.6,616.9L453.3,623.9L455.4,629.9L458.3,635.9L460.9,640.0L463.9,643.0L467.9,645.5L475.9,653.8L484.9,665.4L490.0,673.9L490.8,674.9L496.9,679.8L505.9,685.7L508.9,687.9L511.9,691.0L515.8,696.8L515.8,846.4L335.3,846.4L333.7,842.9L331.9,840.1L330.9,839.0L320.9,830.9L312.8,826.9L309.9,825.9L303.9,825.6L299.9,824.7L295.9,824.4L290.9,824.6L285.9,821.6L276.9,819.7L270.8,817.9L270.3,816.9L269.3,807.9L268.6,803.9L267.1,799.9L265.9,798.6L261.9,797.5L257.9,796.9L249.9,796.7L244.9,797.4L243.9,797.3L234.9,795.0L216.9,791.1L212.9,790.4L201.1,788.9L203.9,787.3L204.9,786.3L206.4,783.9L207.1,781.9L207.9,778.4L208.5,773.9L209.2,760.9L208.6,759.9L203.9,756.9L200.9,756.0L200.9,536.7L205.9,543.9L206.9,546.1L207.9,549.4L209.9,547.7L215.9,550.0L217.9,551.3L220.9,554.0L222.9,556.2L223.9,556.9L231.9,559.6L239.9,558.0L242.9,555.6L244.9,553.3L246.9,552.2L248.9,551.5L261.9,550.8L269.9,549.8L281.9,547.8L285.9,545.0L300.9,538.9L301.9,538.1L302.9,535.7ZM320.9,702.8L320.2,716.9L319.9,720.5L319.3,723.9L317.3,731.9L315.6,734.9L313.9,737.1L310.9,732.4L309.3,728.9L307.9,726.4L306.9,725.0L305.9,724.6L302.9,724.3L301.9,725.7L299.9,726.6L292.0,731.9L292.3,759.9L293.7,768.9L294.9,772.9L295.9,774.8L298.9,776.2L300.9,777.7L301.9,778.9L302.9,782.4L303.9,783.1L307.9,784.8L310.9,786.3L313.6,787.9L317.7,790.9L320.9,792.7L325.2,793.9L332.9,795.2L337.9,797.4L347.9,802.4L350.9,803.4L367.9,806.7L379.9,806.8L388.9,808.0L407.9,807.2L416.9,804.7L426.9,802.5L435.9,799.4L440.5,796.9L442.9,795.4L446.1,792.9L448.3,790.9L450.1,788.9L458.3,760.9L457.9,759.9L451.9,754.1L444.9,748.1L435.9,741.5L429.2,735.9L424.8,731.9L420.9,729.6L415.9,727.0L407.9,725.6L403.9,722.9L398.9,721.7L392.9,719.1L375.9,716.0L365.9,715.7L351.9,715.6L341.9,716.2L333.9,717.0L326.9,716.7L322.9,716.2L322.1,714.9L321.8,713.9ZM200.9,839.9L200.9,839.6L202.9,842.0L205.5,846.4L200.9,846.4Z"/>
<path fill="#d7eaff" fill-rule="evenodd" d="M310.7,530.9L418.1,530.9L418.9,531.6L421.9,535.6L424.5,537.9L424.9,538.2L430.9,539.3L435.9,541.4L436.9,541.6L447.9,540.8L450.3,539.9L452.9,538.2L453.9,538.3L457.9,539.5L459.9,540.4L461.9,541.9L463.9,544.2L465.4,546.9L466.7,550.9L468.1,558.9L468.0,559.9L464.5,567.9L461.1,574.9L457.9,580.9L453.9,587.5L452.9,590.3L448.9,605.1L444.8,616.9L445.9,626.8L447.2,635.9L448.9,643.9L449.8,645.9L457.9,650.7L462.7,652.9L467.9,655.0L472.9,658.5L474.9,660.5L479.9,666.4L485.4,673.9L487.4,675.9L494.9,682.0L505.9,689.2L508.9,691.7L511.9,695.1L515.8,701.7L515.8,846.4L471.6,846.4L470.1,844.9L467.9,843.2L462.9,840.2L458.9,842.9L454.9,846.1L454.2,846.4L338.3,846.4L336.6,839.9L335.8,837.9L334.6,835.9L330.9,832.1L320.9,824.3L310.9,821.2L302.9,820.3L299.9,820.1L290.9,821.0L286.2,817.9L285.9,816.9L286.0,814.9L286.9,804.4L287.8,798.9L288.9,795.5L289.9,793.6L290.9,792.2L293.3,790.9L296.0,788.9L298.9,787.9L301.0,788.9L301.9,793.0L302.9,802.8L303.9,803.5L308.9,804.2L320.9,805.2L325.9,803.4L331.9,802.1L332.9,802.2L335.9,803.6L347.9,810.0L351.9,811.0L366.9,813.5L379.9,812.8L388.9,812.9L400.9,811.7L407.9,811.6L416.9,809.1L426.9,807.2L434.9,804.9L441.9,801.9L447.9,798.4L450.9,796.1L453.7,792.9L456.1,788.9L458.9,780.3L462.2,771.9L467.8,760.9L467.3,759.9L459.9,755.5L457.9,754.0L452.9,749.1L446.9,743.7L437.5,735.9L432.9,731.8L425.9,727.1L419.9,723.9L415.9,722.2L407.9,720.9L403.9,718.4L398.9,717.1L392.9,713.7L374.9,710.3L358.9,708.5L348.1,706.9L341.9,705.6L336.9,704.2L333.9,703.1L325.9,697.3L322.9,693.9L320.9,689.7L319.9,693.1L318.6,695.9L316.9,698.8L314.1,702.9L313.9,703.6L312.7,704.9L310.9,706.2L303.9,708.7L302.9,709.6L301.9,713.8L300.9,715.2L295.8,719.9L291.9,722.8L287.9,727.9L285.2,731.9L286.4,745.9L287.9,758.4L287.9,764.3L287.1,770.9L286.1,774.9L284.4,777.9L283.4,778.9L281.9,779.9L279.5,780.9L276.9,781.4L275.9,781.4L273.9,779.8L272.9,778.5L271.6,773.9L270.6,766.9L269.9,760.3L269.6,759.9L267.9,758.8L264.9,757.6L263.9,757.4L259.7,759.9L258.9,760.8L258.4,770.9L257.9,776.9L257.0,781.9L255.9,784.6L253.2,786.9L250.1,788.9L244.9,790.9L243.9,790.8L236.1,788.9L232.9,786.7L228.9,783.1L225.9,780.0L223.4,776.9L218.8,769.9L215.9,764.3L214.6,760.9L213.7,759.9L209.9,756.9L206.9,755.0L203.9,753.3L200.9,752.4L200.9,544.4L202.9,550.3L204.5,553.9L205.9,557.8L207.9,568.3L209.9,559.5L211.9,558.0L213.9,557.1L215.9,556.5L216.9,556.8L219.9,559.1L222.9,562.5L224.9,563.4L231.9,565.3L236.9,564.1L239.9,563.2L241.9,559.9L244.9,556.3L247.9,554.5L248.9,554.2L260.9,553.4L269.9,552.3L281.9,550.1L285.9,547.7L295.9,544.0L300.9,542.6L301.9,542.1L302.9,540.5L306.9,538.1L307.9,537.1ZM494.9,530.9L515.8,530.9L515.8,552.5L513.9,552.9L508.9,553.1L506.8,551.9L503.9,549.7L500.9,545.9L498.7,541.9L496.9,537.7ZM200.9,844.9L200.9,844.2L202.5,846.4L200.9,846.4Z"/>
<path fill="#ffe9d9" fill-rule="evenodd" d="M317.6,531.9L318.2,530.9L332.3,530.9L337.9,535.0L338.9,534.9L344.4,530.9L393.0,530.9L402.9,541.1L404.9,542.4L407.9,542.5L417.9,541.7L418.9,542.0L420.9,543.4L423.9,545.0L424.9,545.2L430.9,545.2L436.9,547.7L444.9,549.3L451.9,551.8L452.9,552.3L453.9,553.2L456.9,557.1L458.0,558.9L458.2,559.9L453.9,567.9L452.2,571.9L450.4,577.9L447.9,588.9L446.1,594.9L442.9,604.5L440.0,610.9L438.1,616.9L438.2,644.9L438.4,645.9L440.7,648.9L443.9,652.3L447.8,655.9L449.9,657.5L457.9,661.7L467.9,664.4L472.9,666.4L473.9,667.2L479.8,673.9L482.9,676.7L491.0,682.9L495.9,686.3L501.9,689.9L505.9,692.7L508.4,694.9L511.9,699.2L513.9,702.9L515.8,707.1L515.8,846.4L477.7,846.4L476.9,841.8L475.9,838.0L474.9,835.9L473.4,833.9L471.9,832.5L470.9,832.1L462.9,830.6L458.9,832.6L454.9,835.0L449.9,836.2L444.9,837.1L430.9,837.2L416.9,836.1L411.9,833.7L407.9,830.5L405.9,832.0L403.8,833.9L399.8,838.9L398.2,841.9L396.9,846.4L352.8,846.4L352.9,843.9L353.9,839.9L355.4,836.9L356.9,835.3L358.9,834.0L360.9,833.3L367.9,831.8L374.9,826.5L379.9,825.2L383.2,823.9L384.9,822.8L386.8,820.9L387.9,819.3L388.5,817.9L400.9,816.0L407.9,816.0L416.9,813.4L425.9,812.0L432.9,810.5L436.9,809.5L441.9,807.8L449.9,804.7L453.1,802.9L455.6,800.9L457.9,798.6L459.2,796.9L460.9,794.0L464.2,785.9L468.9,775.4L472.1,766.9L473.9,760.9L473.6,759.9L467.9,754.8L459.9,749.7L457.9,748.2L446.9,737.6L437.1,728.9L432.9,725.7L427.9,722.7L423.9,720.6L417.6,717.9L414.9,717.1L407.9,716.1L403.9,713.9L398.9,712.4L392.9,708.3L365.9,702.9L351.9,698.3L334.9,693.5L331.3,690.9L325.9,686.0L323.9,682.8L320.9,676.7L317.9,684.9L316.9,686.8L314.9,689.8L313.9,691.0L310.9,693.2L302.9,697.8L301.9,701.9L300.4,704.9L295.9,710.3L293.9,712.4L291.9,713.9L287.5,718.9L282.9,724.9L278.9,730.9L278.4,731.9L279.1,759.9L278.9,760.9L277.8,762.9L276.9,764.2L275.9,764.9L273.9,761.7L273.6,760.9L271.8,750.9L270.9,748.1L269.9,747.3L266.9,749.1L263.9,749.8L258.9,753.3L257.2,756.9L255.9,760.4L251.9,767.3L244.9,776.6L243.9,777.2L242.9,777.2L239.5,773.9L236.1,769.9L233.4,765.9L230.5,760.9L229.9,760.4L229.1,759.9L226.9,759.1L214.9,756.1L213.9,755.7L209.9,752.9L206.9,751.2L203.9,749.8L200.9,748.9L200.9,591.8L206.6,588.9L207.8,587.9L209.9,579.0L211.2,574.9L213.5,569.9L215.9,566.0L216.9,565.9L217.9,566.3L223.9,569.5L231.9,571.1L239.9,569.5L242.9,565.6L244.9,559.3L245.9,558.4L247.9,557.2L248.9,556.9L260.9,555.9L269.9,554.7L278.9,552.8L281.9,552.3L285.9,550.3L291.9,548.2L295.9,547.0L300.9,546.3L301.9,546.1L302.9,545.3L306.9,544.6L307.9,544.2L308.9,543.3L310.9,540.3L314.4,536.9L315.9,534.8ZM243.9,673.7L243.5,673.9L242.9,674.9L243.9,676.2L244.9,676.8L247.6,674.9L246.6,673.9L244.9,673.6ZM499.7,530.9L515.8,530.9L515.8,546.3L512.9,545.9L508.9,544.7L505.6,541.9L503.9,540.0L502.9,538.3L501.2,534.9ZM200.9,552.9L200.9,552.1L201.1,552.9L202.6,559.9L201.7,570.9L200.9,575.8ZM330.3,809.9L331.9,809.2L332.9,809.3L339.9,813.0L348.4,817.9L348.9,827.9L349.2,846.4L341.6,846.4L340.0,834.9L339.1,831.9L337.9,829.6L335.9,827.7L332.9,826.7L331.9,826.1L321.2,817.9L321.6,816.9L324.9,813.5L327.9,811.3Z"/>
<path fill="#ffcdb5" fill-rule="evenodd" d="M504.3,530.9L515.8,530.9L515.8,540.2L512.8,538.9L509.7,536.9L506.9,534.1ZM362.8,543.9L363.9,543.8L370.9,544.6L385.9,544.2L387.9,543.9L388.9,544.1L390.9,545.4L392.9,547.0L396.9,551.8L402.9,557.9L407.9,558.0L412.8,554.9L417.9,552.6L418.9,552.4L424.9,552.3L429.9,551.1L430.9,551.2L442.9,556.3L446.9,558.8L447.7,559.9L446.2,564.9L444.9,570.5L442.3,587.9L441.9,588.7L438.7,591.9L436.9,594.9L435.4,598.9L434.1,604.9L432.6,616.9L433.5,645.9L436.9,658.0L437.9,660.1L440.9,662.9L444.8,665.9L448.9,668.5L456.9,672.3L457.9,672.7L461.9,673.2L472.9,674.2L473.9,674.7L476.9,677.1L488.0,684.9L495.9,689.9L500.9,692.6L505.9,696.2L508.9,699.1L511.6,702.9L513.9,708.9L515.8,712.6L515.8,846.4L483.1,846.4L481.9,817.9L476.9,808.1L475.9,807.2L474.9,808.1L473.8,809.9L473.2,811.9L472.4,816.9L471.9,818.1L467.9,820.1L462.9,821.0L453.9,824.2L445.9,826.2L438.9,825.1L430.9,823.2L423.9,820.8L417.4,817.9L435.9,815.0L445.9,812.6L452.9,812.2L459.9,811.2L464.4,809.9L466.9,808.3L468.6,805.9L469.6,802.9L470.2,797.9L470.7,788.9L473.9,782.8L475.7,776.9L477.2,766.9L477.8,760.9L477.5,759.9L473.9,755.2L467.9,749.3L458.9,743.2L437.9,722.9L432.9,719.6L425.4,715.9L417.9,713.0L414.9,712.3L407.9,711.3L403.9,709.4L398.9,707.8L396.9,706.4L392.9,702.8L391.9,702.3L369.9,692.5L365.9,691.2L356.9,688.8L335.9,684.1L334.9,683.7L330.7,679.9L326.1,674.9L323.0,669.9L321.9,668.5L320.9,667.7L316.9,674.8L313.9,678.9L308.9,684.0L302.9,688.4L301.9,690.7L298.9,693.9L296.9,696.6L295.7,698.9L294.2,702.9L286.9,710.1L279.9,718.4L271.9,729.9L270.9,731.7L268.9,736.7L266.9,739.9L258.9,746.2L255.9,751.7L244.9,759.9L242.9,761.7L241.2,759.9L239.9,759.1L229.9,753.9L227.9,753.3L225.9,753.4L214.9,751.6L213.9,751.3L209.9,748.9L206.9,747.4L203.9,746.2L200.9,745.4L200.9,596.6L207.9,593.5L210.3,590.9L212.4,587.9L214.0,582.9L215.9,578.4L216.9,577.0L217.9,576.4L219.9,575.8L221.9,575.7L231.9,577.0L238.9,576.0L239.9,575.8L240.9,575.0L242.9,573.2L243.6,571.9L247.9,561.4L248.9,559.8L269.9,557.2L278.9,555.1L281.9,554.6L285.9,553.0L295.9,550.1L301.9,550.0L308.9,551.4L310.9,550.2L314.9,549.0L317.9,547.6L324.9,547.6L325.9,547.8L331.9,550.7L337.9,552.7L347.9,552.3L351.1,550.9L355.9,548.4ZM243.9,669.6L232.8,673.9L232.0,674.9L233.9,680.9L235.9,685.4L237.3,686.9L238.9,688.2L240.9,689.3L243.9,690.5L244.9,690.5L246.9,689.4L254.5,682.9L257.9,680.3L258.9,679.9L266.9,677.8L277.9,676.3L283.2,674.9L280.6,673.9L257.9,671.9L244.9,669.4ZM331.1,816.9L331.9,816.3L332.9,816.3L335.2,817.9L332.9,819.2L331.9,819.1L330.3,817.9Z"/>
<path fill="#ffa882" fill-rule="evenodd" d="M511.7,530.9L515.8,530.9L515.8,534.0ZM292.5,553.9L296.9,553.1L301.9,554.0L302.9,555.0L306.9,557.5L308.9,559.5L324.9,564.8L328.9,565.6L330.9,566.5L332.9,567.8L335.0,569.9L335.9,571.2L337.1,573.9L338.7,579.9L339.9,588.2L342.9,591.9L346.9,595.8L347.9,595.8L349.1,594.9L350.9,593.4L352.9,591.1L354.5,588.9L357.0,583.9L359.4,579.9L361.9,576.7L364.9,573.6L367.9,571.2L374.9,566.1L385.9,559.9L387.9,558.5L388.9,558.6L389.9,559.4L392.5,562.9L395.9,566.8L402.9,571.8L407.9,572.7L410.9,571.8L413.1,572.9L415.2,574.9L416.3,576.9L417.3,579.9L418.4,585.9L418.7,588.9L416.9,606.8L416.0,611.9L414.8,616.9L418.6,622.9L421.4,628.9L423.9,636.5L426.7,647.9L428.2,651.9L430.9,657.3L432.9,662.9L435.9,672.4L436.9,674.5L439.9,675.9L442.9,676.7L456.9,678.9L471.9,679.2L472.9,679.4L476.2,681.9L483.9,686.7L496.6,693.9L500.9,696.1L505.9,699.7L508.9,702.9L512.8,712.9L514.4,715.9L515.8,718.0L515.8,846.4L488.5,846.4L488.4,817.9L485.2,804.9L482.2,788.9L481.6,775.9L481.2,760.9L480.9,759.9L477.9,755.2L471.9,747.7L466.9,743.1L458.9,737.3L437.9,716.2L431.9,713.1L423.8,709.9L417.3,707.9L407.9,706.5L398.7,702.9L397.0,695.9L395.7,691.9L394.3,688.9L392.9,687.7L386.9,688.0L385.9,687.8L369.9,680.3L357.9,677.9L335.9,674.2L334.9,673.0L332.9,668.5L330.9,665.9L328.9,664.3L325.9,662.7L321.9,660.0L320.9,659.7L316.9,665.0L312.7,668.9L307.6,674.9L303.9,678.2L301.9,679.5L299.9,679.4L295.9,678.9L293.9,678.3L292.9,677.8L290.7,675.9L289.9,674.8L289.6,673.9L286.9,670.3L284.9,668.5L283.9,668.1L280.9,668.3L257.9,667.1L244.9,665.3L236.9,667.7L231.9,669.8L230.9,669.9L222.9,668.7L220.9,668.1L219.9,667.5L218.9,666.1L218.5,664.9L217.6,656.9L217.3,645.9L216.8,644.9L213.9,642.1L212.9,642.8L210.7,644.9L210.1,645.9L211.6,656.9L213.1,663.9L213.9,667.1L214.9,668.7L215.3,669.9L216.2,674.9L219.2,685.9L223.4,702.9L228.9,704.9L234.9,706.5L235.9,706.5L244.9,704.1L246.9,703.3L247.9,702.6L253.9,695.9L258.9,691.4L266.9,688.4L269.9,688.9L273.9,690.0L276.9,692.0L279.0,693.9L281.4,696.9L283.1,699.9L284.4,702.9L278.8,708.9L270.9,718.5L268.6,723.9L265.9,732.3L261.5,736.9L258.9,739.2L255.9,743.1L243.9,752.1L242.9,752.6L238.9,751.5L228.9,747.4L227.9,747.2L225.9,747.9L214.9,747.2L206.9,743.7L203.9,742.6L200.9,741.9L200.9,601.4L206.9,599.3L207.9,598.9L209.1,597.9L211.2,595.9L213.8,592.9L218.4,585.9L219.9,584.3L221.9,582.8L222.9,582.3L232.9,582.7L239.9,582.1L240.9,581.7L242.9,580.7L243.8,579.9L248.9,574.0L253.9,572.5L260.9,568.0L263.9,565.5L269.8,559.9L272.7,558.9L278.9,557.4L281.9,556.9ZM428.1,557.9L429.9,557.2L430.9,557.1L435.0,558.9L436.4,559.9L434.5,564.9L431.9,570.6L430.9,572.5L429.9,572.8L427.9,570.8L426.3,567.9L425.4,564.9L424.5,559.9L425.9,558.9Z"/>
<path fill="#ff7a45" fill-rule="evenodd" d="M291.9,556.9L296.9,556.3L300.9,557.4L301.9,558.0L302.8,559.9L303.9,563.5L304.9,565.5L306.9,568.7L308.9,571.1L317.9,573.2L324.9,575.7L328.9,576.8L329.9,577.7L332.6,581.9L334.9,587.1L337.1,599.9L338.3,603.9L339.9,607.2L346.9,611.8L353.9,613.8L355.9,614.8L357.9,616.3L358.4,616.9L359.9,622.9L360.9,625.7L362.1,627.9L363.9,629.9L367.2,622.9L369.3,616.9L370.7,611.9L373.0,601.9L375.1,588.9L375.7,587.9L387.9,580.3L388.9,579.9L389.9,579.8L392.9,580.1L395.9,581.9L399.9,583.9L409.6,587.9L410.0,588.9L408.6,590.9L406.9,593.9L404.1,600.9L402.5,606.9L400.5,616.9L406.0,627.9L411.8,637.9L416.9,645.6L418.8,657.9L419.9,662.1L421.4,665.9L422.9,668.4L424.9,670.7L426.9,672.4L429.9,674.1L430.9,676.7L432.4,682.9L433.8,685.9L434.9,687.6L435.9,688.6L436.9,689.2L437.9,689.1L440.9,687.0L442.9,686.1L446.3,684.9L449.9,684.0L457.9,684.6L471.9,684.1L472.9,684.6L475.9,687.1L481.9,690.3L500.9,699.5L505.5,702.9L507.9,709.1L510.9,716.0L513.7,720.9L515.8,723.5L515.8,846.4L492.7,846.4L492.5,817.9L486.9,788.9L485.6,760.9L485.3,759.9L482.9,756.2L474.9,746.6L471.9,742.4L466.9,737.5L459.4,731.9L454.3,725.9L449.9,722.0L437.9,709.6L428.9,706.1L417.6,702.9L416.3,699.9L413.9,696.9L411.9,695.3L407.9,693.2L404.1,683.9L400.1,675.9L398.1,672.9L394.9,669.9L393.9,670.4L390.5,673.9L389.0,674.9L386.9,675.9L385.9,675.9L382.9,674.3L382.4,673.9L376.1,665.9L370.9,660.2L357.7,652.9L347.0,645.9L345.2,640.9L343.9,638.2L342.2,635.9L339.9,633.9L338.9,633.6L338.0,634.9L335.0,639.9L332.1,645.9L329.9,648.3L327.9,649.7L325.9,650.7L320.9,651.7L316.9,655.4L312.9,657.7L309.9,660.0L305.9,663.5L302.9,666.5L296.9,665.5L289.9,664.7L287.9,663.3L284.9,662.0L283.9,662.0L280.9,662.6L258.9,662.4L244.9,661.2L234.9,663.8L231.9,665.3L230.9,665.3L227.1,661.9L225.3,659.9L223.9,657.9L222.2,653.9L220.3,644.9L218.2,638.9L216.9,637.0L213.9,634.8L211.9,635.9L209.9,637.3L206.9,641.4L204.7,645.9L203.1,651.9L200.9,656.6L200.9,606.2L207.9,604.2L211.4,601.9L214.9,598.7L219.9,593.1L222.9,589.3L242.9,588.3L252.9,588.6L253.9,588.5L255.3,587.9L263.9,581.9L269.9,575.1L274.7,567.9L279.0,559.9ZM266.9,698.9L267.9,699.2L269.9,700.3L273.8,702.9L269.9,706.3L266.9,710.4L262.9,711.2L261.6,711.9L260.8,712.9L260.3,714.9L260.0,716.9L259.5,730.9L259.2,731.9L242.9,744.1L238.9,744.5L230.9,741.7L227.9,741.1L225.9,742.5L214.9,742.7L206.9,739.9L200.9,738.4L200.9,709.0L212.9,705.7L222.9,712.0L225.9,713.2L227.9,715.3L228.9,715.5L234.9,715.7L238.9,714.9L242.9,715.6L247.9,716.9L252.9,716.5L255.9,715.7L256.9,715.0L257.7,713.9L258.4,710.9L259.0,702.9Z"/>
<path fill="#ff501b" fill-rule="evenodd" d="M293.4,559.9L295.9,559.5L297.4,559.9L300.9,567.6L301.9,570.9L302.9,578.6L303.9,580.1L305.9,581.4L308.9,582.9L317.9,584.0L328.4,587.9L328.9,588.6L328.9,590.0L328.4,591.9L325.6,601.9L323.1,608.9L319.7,616.9L317.4,642.9L317.2,644.9L316.9,645.3L316.2,645.9L308.9,648.2L301.9,651.5L298.2,652.9L290.9,654.7L289.9,654.9L288.9,654.8L284.9,655.5L280.9,657.0L257.9,657.6L244.9,657.1L234.9,659.3L233.9,659.6L231.9,660.8L230.9,660.6L229.9,659.4L227.7,655.9L226.2,652.9L224.2,647.9L222.2,639.9L220.9,635.8L218.9,631.6L217.9,630.0L216.9,629.1L213.9,627.6L209.9,628.8L206.9,631.0L202.9,634.9L200.9,637.4L200.9,611.0L207.9,609.6L211.9,607.8L215.9,605.3L219.9,602.0L222.9,599.2L233.9,597.2L242.9,595.9L253.9,597.3L259.9,596.5L264.9,598.3L266.9,597.0L268.0,595.9L268.9,594.6L272.0,587.9L276.0,582.9L290.9,562.0ZM391.1,642.9L391.9,642.4L392.9,642.6L395.6,644.9L396.0,645.9L392.9,647.7L391.9,647.8L388.9,646.3L388.3,645.9L388.6,644.9ZM459.6,689.9L471.9,689.0L473.1,689.9L474.9,691.9L475.9,692.5L483.9,696.0L492.9,699.2L500.9,702.9L507.3,716.9L509.9,721.9L512.6,725.9L515.8,728.9L515.8,846.4L510.2,846.4L505.9,843.1L503.9,840.8L501.9,837.6L500.3,833.9L499.0,829.9L497.9,824.8L496.3,814.9L490.7,788.9L492.0,772.9L493.8,760.9L493.7,759.9L492.7,757.9L490.9,755.1L488.9,753.2L479.9,747.2L477.9,744.7L474.9,741.7L471.9,737.1L466.8,731.9L461.9,725.9L455.7,719.9L449.9,715.6L438.0,702.9L440.2,698.9L442.5,695.9L444.9,693.6L447.9,691.5L449.9,690.4ZM507.9,758.2L506.2,759.9L506.7,760.9L507.9,761.5L508.9,761.4L510.0,760.9L511.0,759.9L508.9,757.9ZM211.3,716.9L212.9,716.4L214.9,716.9L222.2,720.9L225.9,722.5L227.9,726.0L228.9,726.1L235.9,724.7L237.9,724.1L238.9,724.1L242.0,725.9L244.7,727.9L247.7,730.9L248.0,731.9L242.9,735.7L238.9,737.4L237.9,737.4L228.9,735.0L227.9,734.9L225.9,737.0L214.9,738.3L207.9,736.4L200.9,734.9L200.9,720.9L202.9,719.9Z"/>
<path fill="#e23100" fill-rule="evenodd" d="M293.9,578.9L294.9,579.1L295.9,579.8L301.2,587.9L301.9,597.8L302.5,610.9L302.9,614.8L303.3,616.9L301.7,623.9L300.2,628.9L298.7,632.9L296.9,636.3L287.9,646.7L285.9,648.4L281.9,651.0L280.9,651.3L258.9,652.8L244.9,652.9L234.9,654.7L233.9,655.0L231.9,656.4L230.9,656.0L230.3,654.9L227.3,647.9L226.6,645.9L225.6,637.9L224.2,631.9L222.3,626.9L220.2,623.9L217.9,621.7L215.9,620.8L213.9,620.3L209.9,620.3L200.9,621.0L200.9,615.7L207.9,615.0L213.9,613.7L215.9,613.1L217.9,612.1L222.9,609.1L233.9,605.8L242.9,603.6L253.9,606.0L258.9,606.6L259.9,607.0L261.3,608.9L262.9,611.6L264.9,617.0L267.9,620.8L268.9,621.4L271.5,618.9L273.1,616.9L279.7,600.9L285.9,588.4L290.9,582.2ZM462.9,694.9L471.9,693.9L474.9,697.4L475.9,697.9L483.9,700.7L492.5,702.9L492.9,703.5L494.3,708.9L495.8,711.9L497.4,713.9L500.9,716.3L501.9,717.6L507.7,726.9L511.4,731.9L509.6,736.9L506.5,742.9L503.9,747.0L501.9,748.9L500.9,749.2L498.9,747.6L494.9,743.8L491.9,740.2L484.9,741.8L480.9,742.0L479.9,741.7L474.9,736.7L473.9,735.2L472.0,731.9L468.9,724.7L466.9,721.3L465.9,720.2L462.1,716.9L456.9,713.1L453.9,711.3L449.9,709.3L444.1,702.9L446.9,699.4L449.9,696.7ZM213.5,726.9L214.9,726.8L223.9,730.9L224.8,731.9L214.9,733.8L204.0,731.9L204.1,730.9ZM515.3,764.9L515.8,764.6L515.8,839.6L511.9,836.5L507.9,832.3L506.2,829.9L504.3,825.9L501.7,817.9L498.8,802.9L495.3,788.9L496.2,784.9L497.4,780.9L499.1,776.9L500.9,773.4L503.3,771.9L507.9,770.4L508.9,769.9Z"/>
<path fill="#b82200" fill-rule="evenodd" d="M240.9,611.9L242.9,611.3L243.9,611.4L251.7,613.9L258.9,616.6L259.2,616.9L259.9,620.0L260.8,626.9L261.9,631.6L263.1,634.9L264.9,638.1L268.9,640.5L274.9,641.6L277.9,642.5L279.9,643.7L280.9,644.9L279.1,645.9L273.9,646.5L258.9,647.9L244.9,648.8L240.9,649.3L233.9,650.4L231.9,651.9L230.9,651.3L229.5,647.9L228.8,644.9L228.6,624.9L228.1,616.9L233.9,614.4ZM289.7,616.9L289.9,616.7L291.0,616.9L289.9,617.1ZM471.4,698.9L471.9,698.9L475.1,702.9L475.9,709.0L476.9,709.7L479.9,710.2L480.9,711.8L482.5,715.9L483.9,720.8L485.4,727.9L485.9,730.9L485.8,731.9L483.9,734.1L480.9,736.1L479.9,736.2L475.0,731.9L474.8,730.9L474.5,719.9L474.0,717.9L473.4,716.9L471.9,716.2L468.9,712.2L465.9,709.7L462.9,708.0L457.9,705.7L450.3,702.9L460.9,700.5ZM499.8,730.9L500.9,730.1L501.9,730.1L503.9,731.9L501.9,733.6L500.9,733.5L499.2,731.9ZM515.4,771.9L515.8,771.5L515.8,829.9L513.0,826.9L510.9,824.2L506.8,817.9L502.0,788.9L503.7,784.9L505.6,781.9L510.2,776.9Z"/>
<path fill="#8b0000" fill-rule="evenodd" d="M515.0,782.9L515.8,782.0L515.8,812.0L512.5,799.9L510.3,788.9Z"/></g>
<rect x="200.9" y="530.9" width="314.9" height="315.5" fill="none" stroke="#000" stroke-width="1.4"/>
<path d="M489.1,846.4v4.6M489.1,530.9v-4.6M435.8,846.4v4.6M435.8,530.9v-4.6M382.5,846.4v4.6M382.5,530.9v-4.6M329.2,846.4v4.6M329.2,530.9v-4.6M275.9,846.4v4.6M275.9,530.9v-4.6M222.6,846.4v4.6M222.6,530.9v-4.6" stroke="#000" stroke-width="0.9" fill="none"/>
<path d="M515.8,846.4v8.6M515.8,530.9v-8.6M462.5,846.4v8.6M462.5,530.9v-8.6M409.2,846.4v8.6M409.2,530.9v-8.6M355.9,846.4v8.6M355.9,530.9v-8.6M302.6,846.4v8.6M302.6,530.9v-8.6M249.3,846.4v8.6M249.3,530.9v-8.6M200.9,846.4h-8.6M515.8,846.4h8.6M200.9,817.7h-8.6M515.8,817.7h8.6M200.9,789.0h-8.6M515.8,789.0h8.6M200.9,760.4h-8.6M515.8,760.4h8.6M200.9,731.7h-8.6M515.8,731.7h8.6M200.9,703.0h-8.6M515.8,703.0h8.6M200.9,674.3h-8.6M515.8,674.3h8.6M200.9,645.6h-8.6M515.8,645.6h8.6M200.9,616.9h-8.6M515.8,616.9h8.6M200.9,588.3h-8.6M515.8,588.3h8.6M200.9,559.6h-8.6M515.8,559.6h8.6M200.9,530.9h-8.6M515.8,530.9h8.6" stroke="#000" stroke-width="1.35" fill="none"/>
<text transform="translate(183.40,852.70)" text-anchor="end" font-size="16.5" fill="#333">Jan</text>
<text transform="translate(183.40,824.02)" text-anchor="end" font-size="16.5" fill="#333">Feb</text>
<text transform="translate(183.40,795.34)" text-anchor="end" font-size="16.5" fill="#333">Mar</text>
<text transform="translate(183.40,766.65)" text-anchor="end" font-size="16.5" fill="#333">Apr</text>
<text transform="translate(183.40,737.97)" text-anchor="end" font-size="16.5" fill="#333">May</text>
<text transform="translate(183.40,709.29)" text-anchor="end" font-size="16.5" fill="#333">Jun</text>
<text transform="translate(183.40,680.61)" text-anchor="end" font-size="16.5" fill="#333">Jul</text>
<text transform="translate(183.40,651.93)" text-anchor="end" font-size="16.5" fill="#333">Aug</text>
<text transform="translate(183.40,623.25)" text-anchor="end" font-size="16.5" fill="#333">Sep</text>
<text transform="translate(183.40,594.56)" text-anchor="end" font-size="16.5" fill="#333">Oct</text>
<text transform="translate(183.40,565.88)" text-anchor="end" font-size="16.5" fill="#333">Nov</text>
<text transform="translate(183.40,537.20)" text-anchor="end" font-size="16.5" fill="#333">Dec</text>
<text transform="translate(515.80,876.20)" text-anchor="middle" font-size="16.5" fill="#333">90W</text>
<text transform="translate(462.50,876.20)" text-anchor="middle" font-size="16.5" fill="#333">110W</text>
<text transform="translate(409.20,876.20)" text-anchor="middle" font-size="16.5" fill="#333">130W</text>
<text transform="translate(355.90,876.20)" text-anchor="middle" font-size="16.5" fill="#333">150W</text>
<text transform="translate(302.60,876.20)" text-anchor="middle" font-size="16.5" fill="#333">170W</text>
<text transform="translate(249.30,876.20)" text-anchor="middle" font-size="16.5" fill="#333">170E</text>
<text transform="translate(142.90,688.65) rotate(-90)" text-anchor="middle" font-size="19.8" letter-spacing="1" fill="#333">Month</text>
<text transform="translate(200.00,518.30)" text-anchor="start" font-size="16.5" letter-spacing="0.25" fill="#333">SW Cloud Forcing</text>
<text transform="translate(472.50,518.30)" text-anchor="start" font-size="16.5" letter-spacing="1.7" fill="#333">W/m</text>
<text transform="translate(509.80,510.30)" text-anchor="start" font-size="11.5" fill="#333">2</text>
<rect x="547.0" y="824.10" width="14.4" height="19.66" fill="#00008b"/>
<rect x="547.0" y="804.74" width="14.4" height="19.66" fill="#001ab4"/>
<rect x="547.0" y="785.38" width="14.4" height="19.66" fill="#0026e0"/>
<rect x="547.0" y="766.02" width="14.4" height="19.66" fill="#1c4bff"/>
<rect x="547.0" y="746.66" width="14.4" height="19.66" fill="#4775ff"/>
<rect x="547.0" y="727.30" width="14.4" height="19.66" fill="#86a8ff"/>
<rect x="547.0" y="707.94" width="14.4" height="19.66" fill="#b4ceff"/>
<rect x="547.0" y="688.58" width="14.4" height="19.66" fill="#d7eaff"/>
<rect x="547.0" y="669.22" width="14.4" height="19.66" fill="#ffe9d9"/>
<rect x="547.0" y="649.86" width="14.4" height="19.66" fill="#ffcdb5"/>
<rect x="547.0" y="630.50" width="14.4" height="19.66" fill="#ffa882"/>
<rect x="547.0" y="611.14" width="14.4" height="19.66" fill="#ff7a45"/>
<rect x="547.0" y="591.78" width="14.4" height="19.66" fill="#ff501b"/>
<rect x="547.0" y="572.42" width="14.4" height="19.66" fill="#e23100"/>
<rect x="547.0" y="553.06" width="14.4" height="19.66" fill="#b82200"/>
<rect x="547.0" y="533.70" width="14.4" height="19.66" fill="#8b0000"/>
<path d="M547.0,553.06H561.4M547.0,572.42H561.4M547.0,591.78H561.4M547.0,611.14H561.4M547.0,630.50H561.4M547.0,649.86H561.4M547.0,669.22H561.4M547.0,688.58H561.4M547.0,707.94H561.4M547.0,727.30H561.4M547.0,746.66H561.4M547.0,766.02H561.4M547.0,785.38H561.4M547.0,804.74H561.4M547.0,824.10H561.4" stroke="#000" stroke-opacity="0.75" stroke-width="0.9" fill="none"/>
<rect x="547.0" y="533.70" width="14.4" height="309.76" fill="none" stroke="#333" stroke-opacity="0.6" stroke-width="0.7"/>
<text transform="translate(582.30,830.20)" text-anchor="middle" font-size="16.5" letter-spacing="1.1" fill="#333">−15</text>
<text transform="translate(582.30,810.84)" text-anchor="middle" font-size="16.5" letter-spacing="1.1" fill="#333">−12</text>
<text transform="translate(582.30,791.48)" text-anchor="middle" font-size="16.5" letter-spacing="1.1" fill="#333">−10</text>
<text transform="translate(582.30,772.12)" text-anchor="middle" font-size="16.5" letter-spacing="1.1" fill="#333">−8</text>
<text transform="translate(582.30,752.76)" text-anchor="middle" font-size="16.5" letter-spacing="1.1" fill="#333">−6</text>
<text transform="translate(582.30,733.40)" text-anchor="middle" font-size="16.5" letter-spacing="1.1" fill="#333">−4</text>
<text transform="translate(582.30,714.04)" text-anchor="middle" font-size="16.5" letter-spacing="1.1" fill="#333">−2</text>
<text transform="translate(581.80,694.68)" text-anchor="middle" font-size="16.5" fill="#333">0</text>
<text transform="translate(581.80,675.32)" text-anchor="middle" font-size="16.5" fill="#333">2</text>
<text transform="translate(581.80,655.96)" text-anchor="middle" font-size="16.5" fill="#333">4</text>
<text transform="translate(581.80,636.60)" text-anchor="middle" font-size="16.5" fill="#333">6</text>
<text transform="translate(581.80,617.24)" text-anchor="middle" font-size="16.5" fill="#333">8</text>
<text transform="translate(581.80,597.88)" text-anchor="middle" font-size="16.5" fill="#333">10</text>
<text transform="translate(581.80,578.52)" text-anchor="middle" font-size="16.5" fill="#333">12</text>
<text transform="translate(581.80,559.16)" text-anchor="middle" font-size="16.5" fill="#333">15</text>
</svg></body></html>
